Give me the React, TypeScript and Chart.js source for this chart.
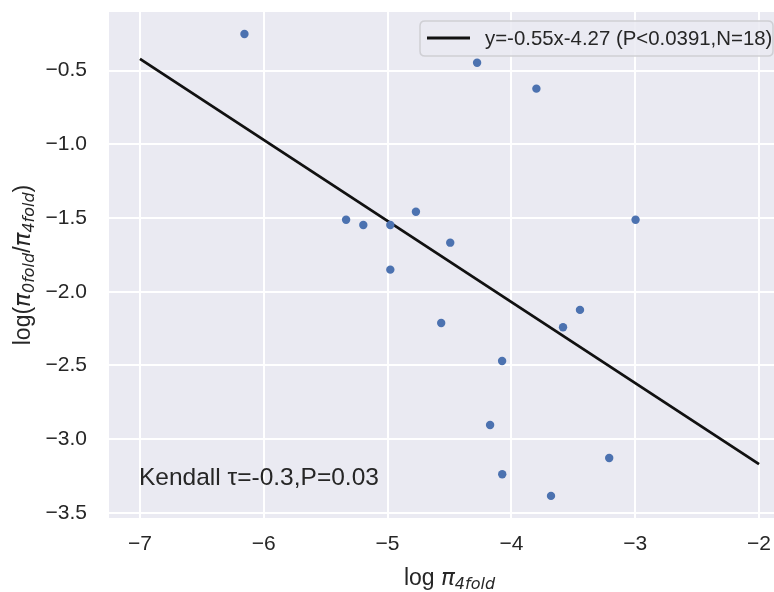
import React, { useEffect, useRef } from "react";
import { Chart, registerables } from "chart.js";

Chart.register(...registerables);

const piX = [-6.156, -4.277, -3.798, -5.335, -5.196, -4.978, -4.771, -4.494, -4.978, -2.997, -4.567, -3.583, -3.446, -4.075, -4.172, -4.074, -3.680, -3.210];
const ratioY = [-0.251, -0.446, -0.622, -1.511, -1.547, -1.547, -1.457, -1.667, -1.850, -1.511, -2.212, -2.241, -2.123, -2.470, -2.904, -3.238, -3.385, -3.128];
const fitX = [-7, -2];
const fitY = [-0.42, -3.17];
const xTicks = [-7, -6, -5, -4, -3, -2];
const yTicks = [-3.5, -3.0, -2.5, -2.0, -1.5, -1.0, -0.5];
const fitLabel = "y=-0.55x-4.27 (P<0.0391,N=18)";
const kendallText = "Kendall \u03C4=-0.3,P=0.03";

const SANS = "'Liberation Sans', Arial, sans-serif";
const MATH = "'DejaVu Sans', sans-serif";
const TXT = "#262626";

type Seg = { t: string; font: string; dy: number };

function drawSegs(ctx: CanvasRenderingContext2D, segs: Seg[], cx: number, by: number) {
  let total = 0;
  for (const s of segs) { ctx.font = s.font; total += ctx.measureText(s.t).width; }
  let x = cx - total / 2;
  ctx.textBaseline = "alphabetic";
  ctx.textAlign = "left";
  for (const s of segs) {
    ctx.font = s.font;
    ctx.fillText(s.t, x, by + s.dy);
    x += ctx.measureText(s.t).width;
  }
}

const decor = {
  id: "decor",
  beforeDraw(chart: any) {
    const { ctx, chartArea: a } = chart;
    ctx.save();
    ctx.fillStyle = "#EAEAF2";
    ctx.fillRect(a.left, a.top, a.right - a.left, a.bottom - a.top);
    ctx.restore();
  },
  afterDraw(chart: any) {
    const { ctx, chartArea: a } = chart;
    const xs = chart.scales.x;
    ctx.save();
    ctx.fillStyle = TXT;
    // x title
    const cx = xs.getPixelForValue(-4.5);
    drawSegs(ctx, [
      { t: "log ", font: `23px ${SANS}`, dy: 0 },
      { t: "\u03C0", font: `italic 23px ${MATH}`, dy: 0 },
      { t: "4fold", font: `italic 16px ${MATH}`, dy: 4 },
    ], cx, 585);
    // y title
    ctx.save();
    ctx.translate(30, (a.top + a.bottom) / 2);
    ctx.rotate(-Math.PI / 2);
    drawSegs(ctx, [
      { t: "log(", font: `23px ${SANS}`, dy: 0 },
      { t: "\u03C0", font: `italic 23px ${MATH}`, dy: 0 },
      { t: "0fold", font: `italic 16px ${MATH}`, dy: 4 },
      { t: "/", font: `23px ${SANS}`, dy: 0 },
      { t: "\u03C0", font: `italic 23px ${MATH}`, dy: 0 },
      { t: "4fold", font: `italic 16px ${MATH}`, dy: 4 },
      { t: ")", font: `23px ${SANS}`, dy: 0 },
    ], 0, 0);
    ctx.restore();
    // Kendall text
    ctx.font = `24.5px ${SANS}`;
    ctx.textAlign = "left";
    ctx.textBaseline = "alphabetic";
    ctx.fillText(kendallText, 139, 485);
    // legend
    const lx = 420, ly = 21, lw = 353, lh = 35, r = 5;
    ctx.beginPath();
    ctx.moveTo(lx + r, ly);
    ctx.lineTo(lx + lw - r, ly);
    ctx.quadraticCurveTo(lx + lw, ly, lx + lw, ly + r);
    ctx.lineTo(lx + lw, ly + lh - r);
    ctx.quadraticCurveTo(lx + lw, ly + lh, lx + lw - r, ly + lh);
    ctx.lineTo(lx + r, ly + lh);
    ctx.quadraticCurveTo(lx, ly + lh, lx, ly + lh - r);
    ctx.lineTo(lx, ly + r);
    ctx.quadraticCurveTo(lx, ly, lx + r, ly);
    ctx.closePath();
    ctx.fillStyle = "rgba(234,234,242,0.85)";
    ctx.fill();
    ctx.strokeStyle = "#cfcfd4";
    ctx.lineWidth = 1.5;
    ctx.stroke();
    ctx.beginPath();
    ctx.moveTo(427, 38);
    ctx.lineTo(470, 38);
    ctx.strokeStyle = "#111111";
    ctx.lineWidth = 2.8;
    ctx.stroke();
    ctx.fillStyle = TXT;
    ctx.font = `20.4px ${SANS}`;
    ctx.textBaseline = "middle";
    ctx.fillText(fitLabel, 485, 39);
    ctx.restore();
  },
};

const fmt = (v: number, d: number) => (v < 0 ? "\u2212" : "") + Math.abs(v).toFixed(d);

const zeroPad = (s: any) => {
  s.paddingTop = 0;
  s.paddingBottom = 0;
  s.paddingLeft = 0;
  s.paddingRight = 0;
};

export default function App() {
  const ref = useRef<HTMLCanvasElement>(null);
  useEffect(() => {
    document.body.style.margin = "0";
    const chart = new Chart(ref.current!, {
      type: "scatter",
      data: {
        datasets: [
          {
            label: "points",
            data: piX.map((x, i) => ({ x, y: ratioY[i] })),
            backgroundColor: "#4C72B0",
            borderWidth: 0,
            pointRadius: 4.2,
            order: 0,
          },
          {
            type: "line",
            label: fitLabel,
            data: fitX.map((x, i) => ({ x, y: fitY[i] })),
            borderColor: "#111111",
            borderWidth: 2.8,
            pointRadius: 0,
            showLine: true,
            fill: false,
            order: 1,
          } as any,
        ],
      },
      options: {
        animation: false,
        responsive: false,
        maintainAspectRatio: false,
        layout: { autoPadding: false, padding: { top: 12, left: 0, right: 0, bottom: 0 } },
        plugins: { legend: { display: false }, tooltip: { enabled: false } },
        scales: {
          x: {
            type: "linear",
            min: -7.25,
            max: -1.879,
            afterBuildTicks: (s: any) => { s.ticks = xTicks.map((v) => ({ value: v })); },
            afterFit: (s: any) => { s.height = 74; zeroPad(s); },
            ticks: {
              color: TXT,
              font: { family: SANS, size: 21 },
              padding: 14,
              callback: (v: any) => fmt(Number(v), 0),
            },
            grid: { color: "#ffffff", lineWidth: 2, drawTicks: false },
            border: { display: false },
          },
          y: {
            type: "linear",
            min: -3.535,
            max: -0.102,
            afterBuildTicks: (s: any) => { s.ticks = yTicks.map((v) => ({ value: v })); },
            afterFit: (s: any) => { s.width = 109; zeroPad(s); },
            ticks: {
              color: TXT,
              font: { family: SANS, size: 21 },
              padding: 22,
              callback: (v: any) => fmt(Number(v), 1),
            },
            grid: { color: "#ffffff", lineWidth: 2, drawTicks: false },
            border: { display: false },
          },
        },
      },
      plugins: [decor],
    });
    return () => chart.destroy();
  }, []);
  return <canvas ref={ref} width={774} height={592} style={{ display: "block" }} />;
}
